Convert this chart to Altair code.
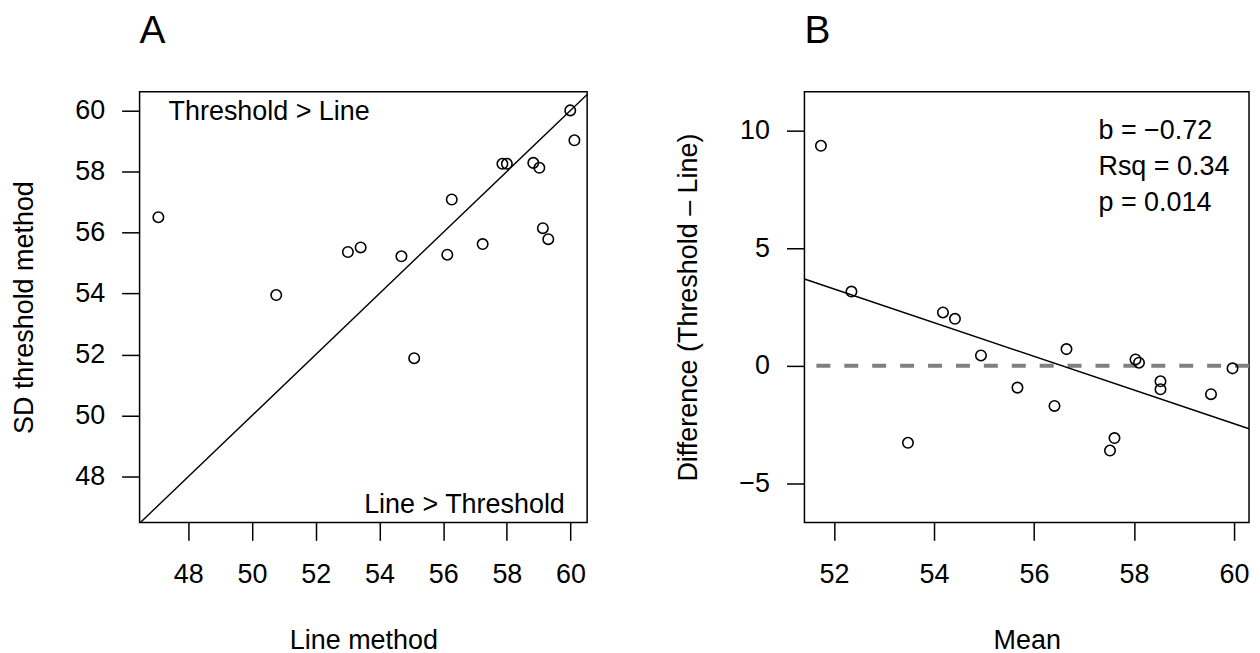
import altair as alt
import pandas as pd

# ---- Data ----
line_method = [47.06, 50.76, 53.01, 53.41, 54.69, 55.09, 56.13, 56.27, 57.24,
               57.86, 58.00, 58.83, 59.02, 59.13, 59.30, 59.99, 60.12]
sd_threshold = [56.50, 53.95, 55.36, 55.51, 55.22, 51.88, 55.27, 57.08, 55.62,
                58.25, 58.25, 58.28, 58.12, 56.14, 55.78, 60.00, 59.02]

mean_vals = [51.74, 52.35, 53.48, 54.18, 54.42, 54.94, 55.67, 56.41, 56.65,
             57.52, 57.61, 58.03, 58.10, 58.53, 58.53, 59.54, 59.97]
diff_vals = [9.37, 3.16, -3.28, 2.27, 2.00, 0.44, -0.93, -1.71, 0.71,
             -3.61, -3.08, 0.27, 0.13, -0.66, -1.00, -1.21, -0.11]

xA_ticks = [48, 50, 52, 54, 56, 58, 60]
yA_ticks = [48, 50, 52, 54, 56, 58, 60]
xB_ticks = [52, 54, 56, 58, 60]
yB_ticks = [-5, 0, 5, 10]

xA_domain = [46.47, 60.52]
yA_domain = [46.50, 60.61]
xB_domain = [51.41, 60.30]
yB_domain = [-6.67, 11.67]

panel_titles = ["A", "B"]
axis_titles = ["Line method", "SD threshold method", "Mean", "Difference (Threshold \u2013 Line)"]
region_labels = ["Threshold > Line", "Line > Threshold"]
stats_lines = ["b = \u22120.72", "Rsq = 0.34", "p = 0.014"]

FONT = "Liberation Sans"
FS = 27
WA, WB, H = 449, 446, 432

dfA = pd.DataFrame({"line": line_method, "sd": sd_threshold})
dfB = pd.DataFrame({"mean": mean_vals, "diff": diff_vals})
dfDiag = pd.DataFrame({"v": xA_domain})
dfLab1 = pd.DataFrame({"t": [region_labels[0]]})
dfLab2 = pd.DataFrame({"t": [region_labels[1]]})
dfStats = pd.DataFrame({"t": [stats_lines]})
dfZero = pd.DataFrame({"z": [0]})


def xaxis(values, title):
    return alt.Axis(values=values, title=title, grid=False, domain=False,
                    tickSize=18, tickWidth=1.5, tickColor="black",
                    labelFont=FONT, labelFontSize=FS, labelColor="black",
                    labelPadding=21, labelFlush=False, labelOverlap=False,
                    titleFont=FONT, titleFontSize=FS, titleFontWeight="normal",
                    titleColor="black", titlePadding=41)


def yaxis(values, title):
    return alt.Axis(values=values, title=title, grid=False, domain=False,
                    tickSize=18, tickWidth=1.5, tickColor="black",
                    labelFont=FONT, labelFontSize=FS, labelColor="black",
                    labelPadding=17, labelFlush=False, labelOverlap=False,
                    titleFont=FONT, titleFontSize=FS, titleFontWeight="normal",
                    titleColor="black", titlePadding=36)


sxA = alt.Scale(domain=xA_domain, nice=False, zero=False)
syA = alt.Scale(domain=yA_domain, nice=False, zero=False)
sxB = alt.Scale(domain=xB_domain, nice=False, zero=False)
syB = alt.Scale(domain=yB_domain, nice=False, zero=False)

axXA = xaxis(xA_ticks, axis_titles[0])
axYA = yaxis(yA_ticks, axis_titles[1])
axXB = xaxis(xB_ticks, axis_titles[2])
axYB = yaxis(yB_ticks, axis_titles[3])

pt = dict(shape="circle", filled=False, color="black", size=110, strokeWidth=1.6, opacity=1)
txt = dict(font=FONT, fontSize=FS, color="black")


def XA(**kw):
    return alt.X(scale=sxA, axis=axXA, title=axis_titles[0], **kw)


def YA(**kw):
    return alt.Y(scale=syA, axis=axYA, title=axis_titles[1], **kw)


def XB(**kw):
    return alt.X(scale=sxB, axis=axXB, title=axis_titles[2], **kw)


def YB(**kw):
    return alt.Y(scale=syB, axis=axYB, title=axis_titles[3], **kw)


def ptitle(t):
    return alt.TitleParams(text=t, anchor="start", frame="group",
                           font=FONT, fontSize=39, fontWeight="normal",
                           color="black", baseline="top", offset=41)


# ---- Panel A ----
ptsA = alt.Chart(dfA).mark_point(**pt).encode(x=XA(field="line", type="quantitative"),
                                              y=YA(field="sd", type="quantitative"))
diag = alt.Chart(dfDiag).mark_line(color="black", strokeWidth=1.4, clip=True).encode(
    x=XA(field="v", type="quantitative"), y=YA(field="v", type="quantitative"))
lab1 = alt.Chart(dfLab1).mark_text(align="left", baseline="alphabetic", **txt).encode(
    x=XA(datum=47.38), y=YA(datum=59.67), text="t:N")
lab2 = alt.Chart(dfLab2).mark_text(align="right", baseline="alphabetic", **txt).encode(
    x=XA(datum=59.82), y=YA(datum=46.80), text="t:N")
panelA = alt.layer(ptsA, diag, lab1, lab2).properties(width=WA, height=H, title=ptitle(panel_titles[0]))

# ---- Panel B ----
zero = alt.Chart(dfZero).mark_rule(color="#808080", strokeWidth=4, strokeDash=[14, 14]).encode(
    y=YB(field="z", type="quantitative"))
reg = alt.Chart(dfB).transform_regression(
    "mean", "diff", extent=xB_domain
).mark_line(color="black", strokeWidth=1.5, clip=True).encode(
    x=XB(field="mean", type="quantitative"), y=YB(field="diff", type="quantitative"))
ptsB = alt.Chart(dfB).mark_point(**pt).encode(
    x=XB(field="mean", type="quantitative"), y=YB(field="diff", type="quantitative"))
stats = alt.Chart(dfStats).mark_text(align="left", baseline="alphabetic", lineHeight=36, **txt).encode(
    x=XB(datum=57.29), y=YB(datum=9.66), text=alt.Text("t"))
panelB = alt.layer(zero, reg, ptsB, stats).properties(width=WB, height=H, title=ptitle(panel_titles[1]))

chart = alt.hconcat(panelA, panelB, spacing=86).properties(
    padding={"left": 2, "top": 2, "right": 0, "bottom": 0},
    background="white",
).configure_view(stroke="black", strokeWidth=1.5)

chart.save("out.html", embed_options={"renderer": "svg", "actions": False})
